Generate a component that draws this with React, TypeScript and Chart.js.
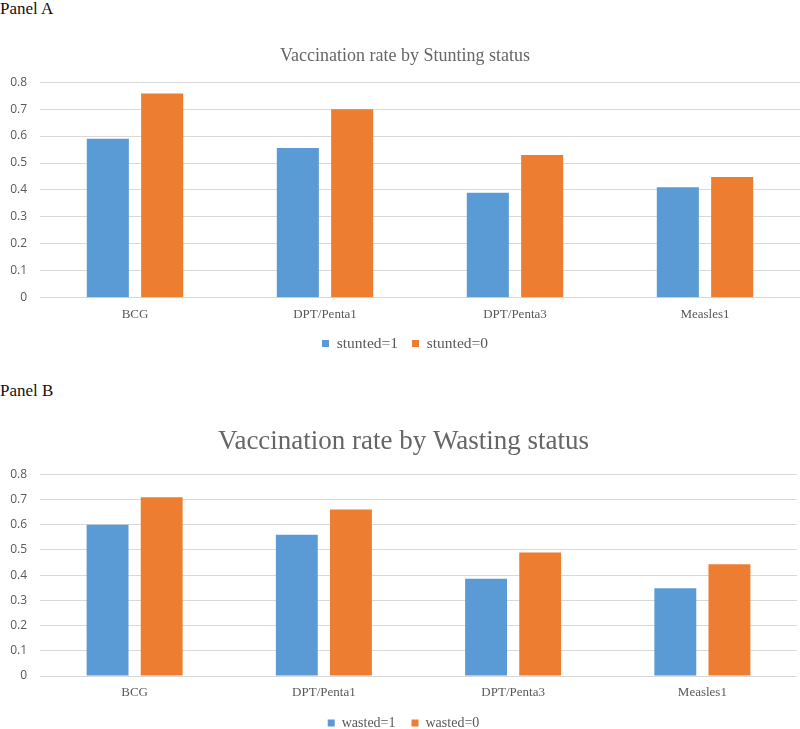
import React, { useEffect, useRef } from "react";
import { Chart, registerables } from "chart.js";

Chart.register(...registerables);

const categories = ["BCG", "DPT/Penta1", "DPT/Penta3", "Measles1"];
const stuntedYes = [0.59, 0.556, 0.39, 0.41];
const stuntedNo = [0.758, 0.70, 0.53, 0.448];
const wastedYes = [0.60, 0.56, 0.386, 0.348];
const wastedNo = [0.709, 0.66, 0.49, 0.443];
const yMax = 0.8;
const yStep = 0.1;

const BLUE = "#5B9BD5";
const ORANGE = "#ED7D31";
const GRID = "#D9D9D9";
const TEXT = "#595959";
const SERIF = "'Liberation Serif', 'Times New Roman', serif";
const SANS = "'Open Sans', 'Liberation Sans', sans-serif";

type PanelProps = {
  title: string;
  titleSize: number;
  titlePadTop: number;
  titlePadBottom: number;
  labelYes: string;
  labelNo: string;
  valuesYes: number[];
  valuesNo: number[];
  legendSize: number;
  legendPad: number;
  padRight: number;
  padBottom: number;
  top: number;
  height: number;
};

function Panel(p: PanelProps) {
  const ref = useRef<HTMLCanvasElement | null>(null);
  useEffect(() => {
    if (!ref.current) return;
    const chart = new Chart(ref.current, {
      type: "bar",
      data: {
        labels: categories,
        datasets: [
          {
            label: p.labelYes,
            data: p.valuesYes,
            backgroundColor: BLUE,
            categoryPercentage: 0.572,
            barPercentage: 0.774,
          },
          {
            label: p.labelNo,
            data: p.valuesNo,
            backgroundColor: ORANGE,
            categoryPercentage: 0.572,
            barPercentage: 0.774,
          },
        ],
      },
      options: {
        animation: false,
        responsive: false,
        maintainAspectRatio: false,
        layout: { padding: { left: 10, right: p.padRight, top: 0, bottom: p.padBottom } },
        plugins: {
          title: {
            display: true,
            text: p.title,
            color: "#666666",
            font: { family: SERIF, size: p.titleSize, weight: "normal", lineHeight: 1.2 },
            padding: { top: p.titlePadTop, bottom: p.titlePadBottom },
          },
          legend: {
            position: "bottom",
            labels: {
              boxWidth: 7,
              boxHeight: 7,
              padding: p.legendPad,
              color: TEXT,
              font: { family: SERIF, size: p.legendSize },
            },
          },
          tooltip: { enabled: false },
        },
        scales: {
          x: {
            grid: { display: false, drawTicks: false },
            border: { display: false },
            afterFit: (scale: any) => {
              scale.height = 24;
            },
            ticks: {
              color: TEXT,
              padding: 9,
              font: { family: SERIF, size: 13, lineHeight: 1.2 },
            },
          },
          y: {
            min: 0,
            max: yMax,
            grid: { color: GRID, lineWidth: 1, drawTicks: false },
            border: { display: false },
            afterFit: (scale: any) => {
              scale.width = 30;
            },
            ticks: {
              stepSize: yStep,
              color: TEXT,
              padding: 13,
              font: { family: SANS, size: 12 },
              callback: (v: any) => (Number(v) === 0 ? "0" : Number(v).toFixed(1)),
            },
          },
        },
      },
    });
    return () => chart.destroy();
  }, []);
  return (
    <canvas
      ref={ref}
      width={800}
      height={p.height}
      style={{ position: "absolute", left: 0, top: p.top, width: 800, height: p.height }}
    />
  );
}

export default function App() {
  return (
    <div style={{ position: "absolute", left: 0, top: 0, width: 800, height: 729, background: "#fff", overflow: "hidden" }}>
      <div style={{ position: "absolute", left: 0, top: 0, font: `17px ${SERIF}`, color: "#111", lineHeight: "18px" }}>Panel A</div>
      <Panel
        title="Vaccination rate by Stunting status"
        titleSize={18}
        titlePadTop={10}
        titlePadBottom={15.6}
        labelYes="stunted=1"
        labelNo="stunted=0"
        valuesYes={stuntedYes}
        valuesNo={stuntedNo}
        legendSize={15.5}
        legendPad={14}
        padRight={0}
        padBottom={3.8}
        top={35}
        height={330}
      />
      <div style={{ position: "absolute", left: 0, top: 382, font: `17px ${SERIF}`, color: "#111", lineHeight: "18px" }}>Panel B</div>
      <Panel
        title="Vaccination rate by Wasting status"
        titleSize={27}
        titlePadTop={10.5}
        titlePadBottom={16.4}
        labelYes="wasted=1"
        labelNo="wasted=0"
        valuesYes={wastedYes}
        valuesNo={wastedNo}
        legendSize={14}
        legendPad={16}
        padRight={3}
        padBottom={0}
        top={415}
        height={325}
      />
    </div>
  );
}
